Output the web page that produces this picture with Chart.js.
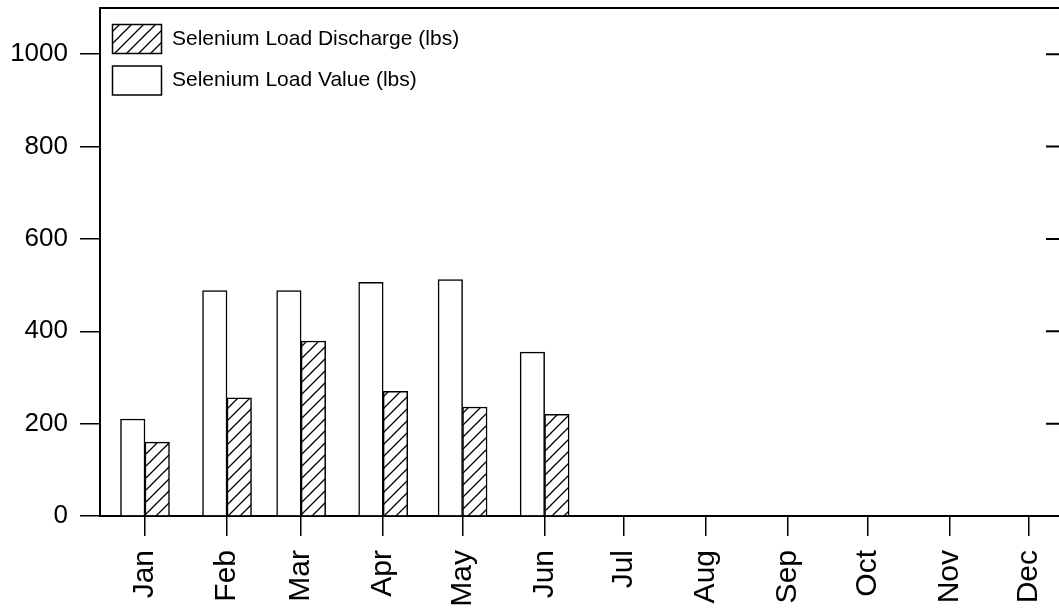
<!DOCTYPE html>
<html>
<head>
<meta charset="utf-8">
<title>Selenium Load</title>
<script src="https://cdn.jsdelivr.net/npm/chart.js@4.4.1/dist/chart.umd.min.js"></script>
<style>
  html, body { margin: 0; padding: 0; background: #fff; overflow: hidden; }
  #wrap { width: 1075px; height: 614px; }
</style>
</head>
<body>
<div id="wrap"><canvas id="chart" width="1075" height="614"></canvas></div>
<script>
/* ── Datos ── */
const meses      = ["Jan","Feb","Mar","Apr","May","Jun","Jul","Aug","Sep","Oct","Nov","Dec"];
const diaInicio  = [0, 31, 59, 90, 120, 151, 181, 212, 243, 273, 304, 334]; // día del año de cada mes
const loadValue     = [210, 488, 488, 506, 512, 355];   // Selenium Load Value (lbs)
const loadDischarge = [160, 256, 379, 270, 236, 220];   // Selenium Load Discharge (lbs)
const yTicks     = [0, 200, 400, 600, 800, 1000];

/* ── Rayado diagonal ── */
function rayado() {
  const c = document.createElement("canvas");
  c.width = 12; c.height = 12;
  const g = c.getContext("2d");
  g.fillStyle = "#fff";
  g.fillRect(0, 0, 12, 12);
  g.strokeStyle = "#000";
  g.lineWidth = 1.3;
  g.beginPath();
  g.moveTo(-3, 15); g.lineTo(15, -3);
  g.moveTo(-3, 3);  g.lineTo(3, -3);
  g.moveTo(9, 15);  g.lineTo(15, 9);
  g.stroke();
  return g.createPattern(c, "repeat");
}

/* ── Marco superior / derecho ── */
const marco = {
  id: "marco",
  afterDraw(chart) {
    const { ctx, chartArea: { left, right, top, bottom }, scales: { y } } = chart;
    ctx.save();
    ctx.strokeStyle = "#000";
    ctx.lineWidth = 2;
    ctx.beginPath();
    ctx.moveTo(left, top);
    ctx.lineTo(right, top);
    ctx.lineTo(right, bottom);
    y.ticks.forEach(t => {
      const py = y.getPixelForValue(t.value);
      ctx.moveTo(right - 20, py);
      ctx.lineTo(right, py);
    });
    ctx.stroke();
    ctx.restore();
  }
};

const puntos = arr => arr.map((v, i) => ({ x: diaInicio[i], y: v }));

Chart.defaults.font.family = "'Liberation Sans', Arial, sans-serif";
Chart.defaults.color = "#000";

new Chart(document.getElementById("chart"), {
  type: "bar",
  data: {
    datasets: [
      {
        label: "Selenium Load Value (lbs)",
        data: puntos(loadValue),
        backgroundColor: "#fff",
        borderColor: "#000",
        borderWidth: 1.5,
        barThickness: 24.5,
      },
      {
        label: "Selenium Load Discharge (lbs)",
        data: puntos(loadDischarge),
        backgroundColor: rayado(),
        borderColor: "#000",
        borderWidth: 1.5,
        barThickness: 24.5,
      },
    ],
  },
  options: {
    responsive: false,
    animation: false,
    layout: { padding: { top: 8, right: 9, left: 0, bottom: 0 } },
    plugins: {
      tooltip: { enabled: false },
      legend: {
        position: "chartArea",
        align: "start",
        reverse: true,
        title: { display: true, text: "", font: { size: 12, lineHeight: 1 }, padding: 0 },
        labels: {
          boxWidth: 49,
          boxHeight: 29,
          padding: 12.5,
          color: "#000",
          font: { size: 21 },
        },
      },
    },
    scales: {
      x: {
        type: "linear",
        offset: false,
        min: -17,
        max: 348,
        afterBuildTicks: s => { s.ticks = diaInicio.map(v => ({ value: v })); },
        afterFit: s => { s.height = 98; s.paddingLeft = 0; s.paddingRight = 0; },
        grid: { offset: false, drawOnChartArea: false, tickLength: 20, color: "#000", lineWidth: 1.5 },
        border: { color: "#000", width: 2 },
        ticks: {
          autoSkip: false,
          minRotation: 90,
          maxRotation: 90,
          padding: 14,
          font: { size: 30 },
          callback: v => meses[diaInicio.indexOf(v)],
        },
      },
      y: {
        min: 0,
        max: 1100,
        afterBuildTicks: s => { s.ticks = yTicks.map(v => ({ value: v })); },
        afterFit: s => { s.width = 100; s.paddingTop = 0; s.paddingBottom = 0; },
        grid: { drawOnChartArea: false, tickLength: 20, color: "#000", lineWidth: 1.5 },
        border: { color: "#000", width: 2 },
        ticks: { padding: 12, font: { size: 26 }, callback: v => String(v) },
      },
    },
  },
  plugins: [marco],
});
</script>
</body>
</html>
